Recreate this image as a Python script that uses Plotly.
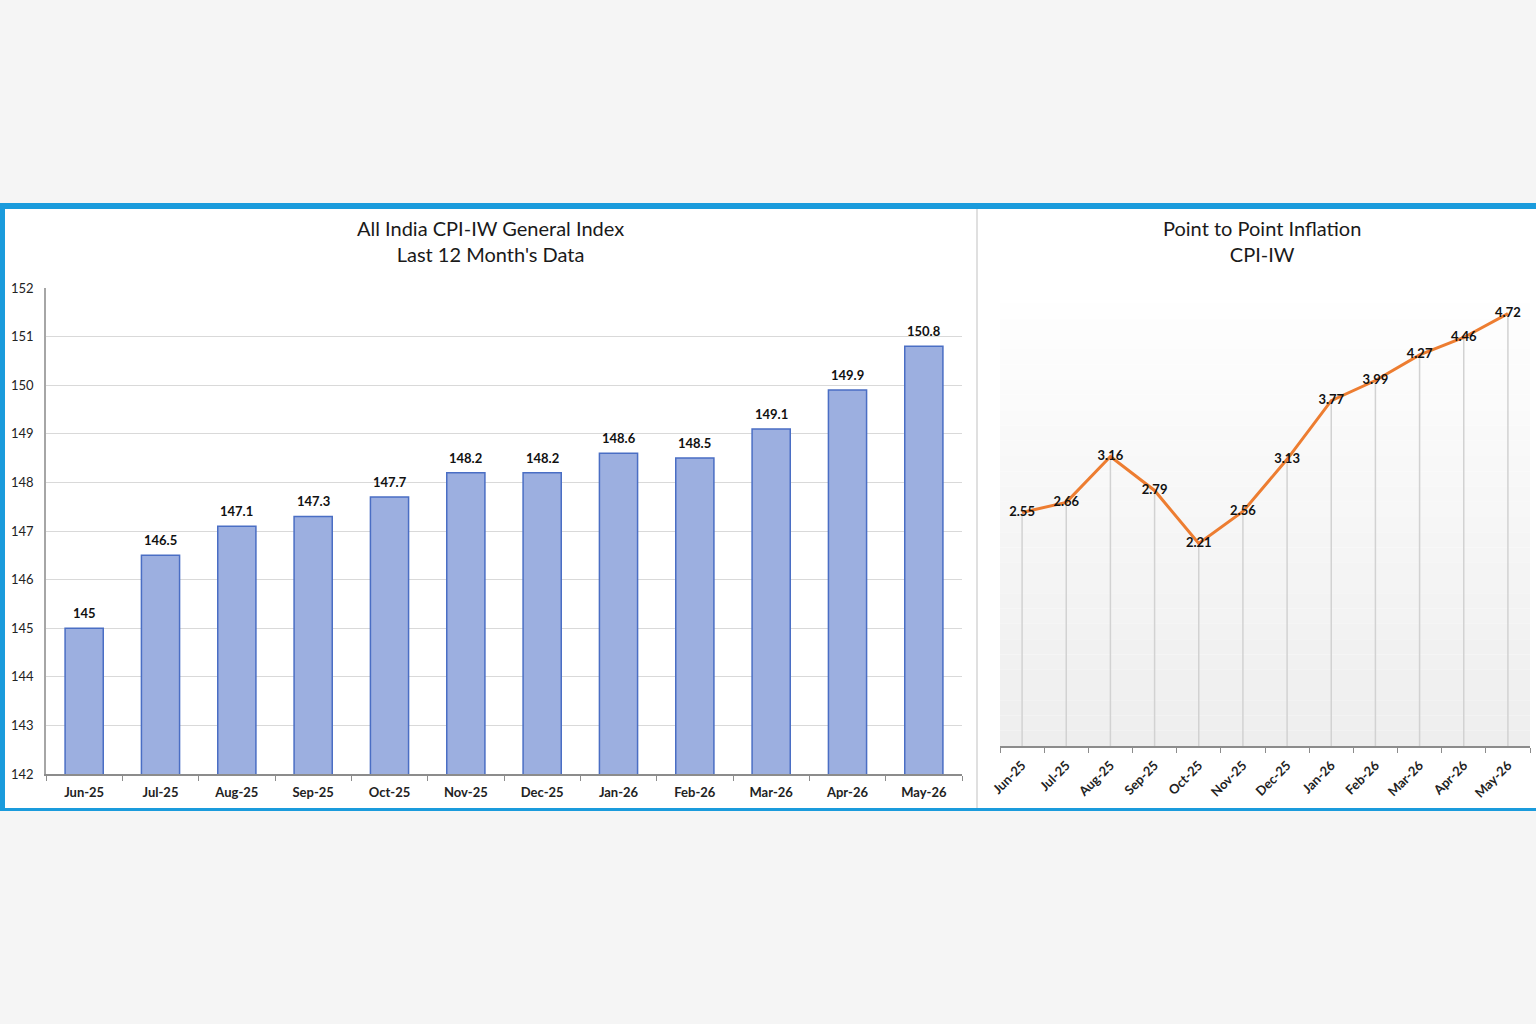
import plotly.graph_objects as go

months = ["Jun-25", "Jul-25", "Aug-25", "Sep-25", "Oct-25", "Nov-25",
          "Dec-25", "Jan-26", "Feb-26", "Mar-26", "Apr-26", "May-26"]
index_values = [145, 146.5, 147.1, 147.3, 147.7, 148.2, 148.2, 148.6, 148.5, 149.1, 149.9, 150.8]
inflation_values = [2.55, 2.66, 3.16, 2.79, 2.21, 2.56, 3.13, 3.77, 3.99, 4.27, 4.46, 4.72]
index_labels = ["145", "146.5", "147.1", "147.3", "147.7", "148.2", "148.2", "148.6", "148.5", "149.1", "149.9", "150.8"]
inflation_labels = ["2.55", "2.66", "3.16", "2.79", "2.21", "2.56", "3.13", "3.77", "3.99", "4.27", "4.46", "4.72"]
left_title = "All India CPI-IW General Index<br>Last 12 Month's Data"
right_title = "Point to Point Inflation<br>CPI-IW"

W, H = 1536, 1024
FONT = "Lato"
BLUE = "#1a9bdc"

def px(x):
    return x / W

def py(y):
    return 1 - y / H

fig = go.Figure()

fig.add_trace(go.Bar(
    x=months, y=index_values,
    marker=dict(color="#9cafe0", line=dict(color="#4a6ec4", width=1.5)),
    xaxis="x", yaxis="y", showlegend=False,
))

# drop lines
fig.add_trace(go.Scatter(
    x=months, y=inflation_values, mode="markers",
    marker=dict(size=1, color="rgba(0,0,0,0)"),
    error_y=dict(type="data", symmetric=False, array=[0] * len(months),
                 arrayminus=inflation_values, width=0, color="#d2d2d2", thickness=1.5),
    xaxis="x2", yaxis="y2", showlegend=False, hoverinfo="skip",
))
fig.add_trace(go.Scatter(
    x=months, y=inflation_values, mode="lines+text", text=inflation_labels,
    textposition="middle center",
    textfont=dict(family=FONT, size=13, color="#111111", weight="bold"),
    line=dict(color="#ed7d31", width=3),
    cliponaxis=False, xaxis="x2", yaxis="y2", showlegend=False,
))

shapes = []
shapes.append(dict(type="rect", xref="paper", yref="paper", x0=0, x1=1, y0=py(810), y1=py(205),
                   fillcolor="white", line=dict(width=0), layer="below"))
n = 30
for i in range(n):
    t = i / n
    c = int(255 - 17 * t)
    shapes.append(dict(type="rect", xref="x2 domain", yref="y2 domain", x0=0, x1=1,
                       y0=1 - (i + 1) / n, y1=1 - i / n,
                       fillcolor=f"rgb({c},{c},{c})", line=dict(width=0), layer="below"))
shapes.append(dict(type="rect", xref="paper", yref="paper", x0=0, x1=1, y0=py(209), y1=py(203),
                   fillcolor=BLUE, line=dict(width=0)))
shapes.append(dict(type="rect", xref="paper", yref="paper", x0=0, x1=px(5), y0=py(811), y1=py(203),
                   fillcolor=BLUE, line=dict(width=0)))
shapes.append(dict(type="rect", xref="paper", yref="paper", x0=0, x1=1, y0=py(811), y1=py(808),
                   fillcolor=BLUE, line=dict(width=0)))
shapes.append(dict(type="line", xref="paper", yref="paper", x0=px(977), x1=px(977), y0=py(808), y1=py(209),
                   line=dict(color="#e0e0e0", width=2)))

annotations = [
    dict(text=left_title, xref="paper", yref="paper", x=px(490), y=py(241), xanchor="center", yanchor="middle",
         showarrow=False, font=dict(family=FONT, size=20, color="#1a1a1a"), align="center"),
    dict(text=right_title, xref="paper", yref="paper", x=px(1262), y=py(241), xanchor="center", yanchor="middle",
         showarrow=False, font=dict(family=FONT, size=20, color="#1a1a1a"), align="center"),
]
for m, v, lab in zip(months, index_values, index_labels):
    annotations.append(dict(text=lab, x=m, y=v, xref="x", yref="y", showarrow=False,
                            yanchor="middle", xanchor="center", yshift=15,
                            font=dict(family=FONT, size=13, color="#111111", weight="bold")))

tick_font = dict(family=FONT, size=13, color="#222222", weight="bold")

fig.update_layout(
    width=W, height=H, margin=dict(l=0, r=0, t=0, b=0, autoexpand=False),
    paper_bgcolor="#f5f5f5", plot_bgcolor="rgba(0,0,0,0)",
    shapes=shapes, annotations=annotations, bargap=0.5,
    xaxis=dict(domain=[px(46), px(962)], anchor="y", showline=True, linecolor="#8c8c8c", linewidth=1.5,
               ticks="outside", tickson="boundaries", ticklen=5, tickcolor="#8c8c8c",
               ticklabelstandoff=6, tickfont=tick_font, showgrid=False, automargin=False),
    yaxis=dict(domain=[py(774), py(288)], anchor="x", range=[142, 152], dtick=1,
               showline=True, linecolor="#a6a6a6", linewidth=1.5, showgrid=True, gridcolor="#d9d9d9",
               gridwidth=1, tickfont=dict(family=FONT, size=13, color="#222222"),
               ticks="", ticklabelstandoff=8, zeroline=False, automargin=False),
    xaxis2=dict(domain=[px(1000), px(1530)], anchor="y2", range=[-0.5, 11.5], showline=True,
                linecolor="#8c8c8c", linewidth=1.5,
                ticks="outside", tickson="boundaries", ticklen=5, tickcolor="#8c8c8c",
                ticklabelstandoff=5, tickangle=-45, tickfont=tick_font, showgrid=False, automargin=False),
    yaxis2=dict(domain=[py(746), py(288)], anchor="x2", range=[0, 5], visible=False, automargin=False),
)

fig.write_html("out.html")
